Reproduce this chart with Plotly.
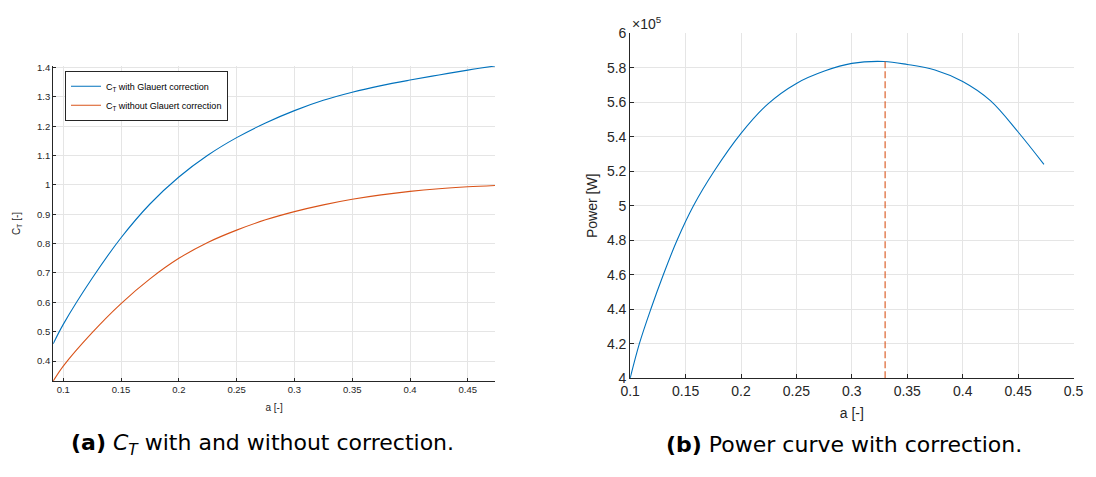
import plotly.graph_objects as go

# ---- Data ----
# (a) thrust coefficient vs axial induction factor
a_ct = [0.0913, 0.100, 0.125, 0.150, 0.175, 0.200, 0.225, 0.250, 0.275, 0.300,
        0.325, 0.350, 0.375, 0.400, 0.425, 0.450, 0.4735]
ct_glauert = [0.459, 0.525, 0.682, 0.820, 0.935, 1.027, 1.101, 1.161, 1.211, 1.253,
              1.288, 1.3155, 1.338, 1.357, 1.3745, 1.391, 1.405]
ct_plain = [0.332, 0.383, 0.497, 0.596, 0.680, 0.750, 0.804, 0.846, 0.881, 0.909,
            0.932, 0.951, 0.966, 0.978, 0.987, 0.9935, 0.998]

# (b) power vs axial induction factor
a_p = [0.100, 0.1083, 0.1186, 0.1299, 0.1423, 0.1571, 0.1757, 0.200, 0.2241, 0.250,
       0.2759, 0.300, 0.3288, 0.350, 0.375, 0.400, 0.425, 0.450, 0.4733]
power_w = [4.00e5, 4.20e5, 4.40e5, 4.60e5, 4.80e5, 5.00e5, 5.20e5, 5.42e5, 5.59e5, 5.71e5,
           5.783e5, 5.826e5, 5.837e5, 5.820e5, 5.788e5, 5.721e5, 5.610e5, 5.428e5, 5.240e5]
a_opt = 0.33
p_opt = 5.837e5
p_floor = 4.0e5

p_ticks = [4.0e5, 4.2e5, 4.4e5, 4.6e5, 4.8e5, 5.0e5, 5.2e5, 5.4e5, 5.6e5, 5.8e5, 6.0e5]
p_ticklabels = ["4", "4.2", "4.4", "4.6", "4.8", "5", "5.2", "5.4", "5.6", "5.8", "6"]

BLUE = "#0072BD"
ORANGE = "#D95319"
GRID = "#e5e5e5"
AX = "#262626"
FONT = "Liberation Sans, Arial, sans-serif"
CAPFONT = "DejaVu Sans, sans-serif"

fig = go.Figure()

fig.add_trace(go.Scatter(x=a_ct, y=ct_glauert, mode="lines", line=dict(color=BLUE, width=1.1, shape="spline"),
                         name="C<sub>T</sub> with Glauert correction", xaxis="x", yaxis="y"))
fig.add_trace(go.Scatter(x=a_ct, y=ct_plain, mode="lines", line=dict(color=ORANGE, width=1.1, shape="spline"),
                         name="C<sub>T</sub> without Glauert correction", xaxis="x", yaxis="y"))
fig.add_trace(go.Scatter(x=a_p, y=power_w, mode="lines", line=dict(color=BLUE, width=1.1, shape="spline"),
                         showlegend=False, xaxis="x2", yaxis="y2"))
fig.add_trace(go.Scatter(x=[a_opt, a_opt], y=[p_floor, p_opt], mode="lines",
                         line=dict(color=ORANGE, width=1.1, dash="7px,3px"),
                         showlegend=False, xaxis="x2", yaxis="y2"))

common = dict(showgrid=True, gridcolor=GRID, gridwidth=1, zeroline=False, showline=True,
              linecolor=AX, linewidth=1, ticks="inside", tickcolor=AX, mirror=False)

fig.update_layout(
    width=1096, height=477, autosize=False,
    margin=dict(l=0, r=0, t=0, b=0),
    paper_bgcolor="white", plot_bgcolor="white",
    font=dict(family=FONT, color=AX),
    xaxis=dict(domain=[44/1096, 494/1096], range=[0.0913, 0.4735], tick0=0.1, dtick=0.05,
               anchor="y", ticklen=3, tickfont=dict(size=9.5, family=FONT, color=AX),
               title=dict(text="a [-]", font=dict(size=10, family=FONT, color=AX), standoff=9), **common),
    yaxis=dict(domain=[(477-386)/477, (477-60)/477], range=[0.332, 1.405], tick0=0.4, dtick=0.1,
               anchor="x", ticklen=3, tickfont=dict(size=9.5, family=FONT, color=AX),
               title=dict(text="C<sub>T</sub> [-]", font=dict(size=10, family=FONT, color=AX), standoff=14), **common),
    xaxis2=dict(domain=[631.7/1096, 1083.3/1096], range=[0.1, 0.5], tick0=0.1, dtick=0.05,
                anchor="y2", ticklen=4, tickfont=dict(size=14, family=FONT, color=AX),
                title=dict(text="a [-]", font=dict(size=14, family=FONT, color=AX), standoff=10), **common),
    yaxis2=dict(domain=[(477-383)/477, (477-26.3)/477], range=[4.0e5, 6.0e5],
                tickvals=p_ticks, ticktext=p_ticklabels,
                anchor="x2", ticklen=4, tickfont=dict(size=14, family=FONT, color=AX),
                title=dict(text="Power [W]", font=dict(size=14, family=FONT, color=AX), standoff=6), **common),
    legend=dict(x=56/1096, y=(477-65)/477, xanchor="left", yanchor="top",
                bgcolor="white", bordercolor=AX, borderwidth=1,
                font=dict(size=9, family=FONT, color="#000000"), tracegroupgap=0,
                itemwidth=30),
    annotations=[
        dict(text="×10<sup>5</sup>", x=632/1096, y=(477-16)/477, xref="paper", yref="paper",
             xanchor="left", yanchor="middle", showarrow=False,
             font=dict(size=14, family=FONT, color=AX)),
        dict(text="<b>(a)</b> <i>C<sub>T</sub></i> with and without correction.", x=257/1096, y=(477-452)/477,
             xref="paper", yref="paper", xanchor="center", yanchor="middle", showarrow=False,
             font=dict(size=22, family=CAPFONT, color="#000000")),
        dict(text="<b>(b)</b> Power curve with correction.", x=849/1096, y=(477-452)/477,
             xref="paper", yref="paper", xanchor="center", yanchor="middle", showarrow=False,
             font=dict(size=22, family=CAPFONT, color="#000000")),
    ],
)

fig.write_html("out.html")
